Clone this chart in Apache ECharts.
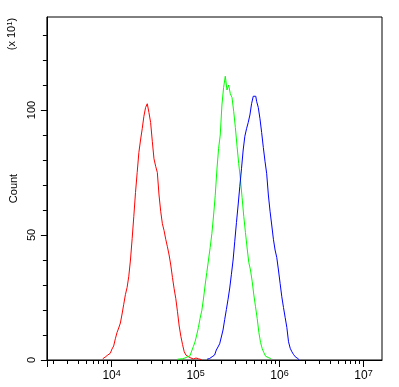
<!DOCTYPE html>
<html>
<head>
<meta charset="utf-8">
<script src="https://cdn.jsdelivr.net/npm/echarts@6/dist/echarts.min.js"></script>
<style>
  html, body { margin: 0; padding: 0; background: #fff; }
  #chart { width: 399px; height: 387px; }
</style>
</head>
<body>
<div id="chart"></div>
<script>
// x is log10(fluorescence), y is event count (x10)
var xMin = 3.23
var xMax = 7.22
var yMax = 137.2
var binWidth = 0.02

var redStart = 3.895
var redCounts = [
  0.5, 1.2, 1.6, 2, 2.7, 3.4, 4.4, 5.6, 8.5, 11,
  12.8, 14.8, 18.4, 22.3, 26.2, 29, 33.5, 40, 48.5, 57.5,
  67, 75, 83, 88, 92.5, 97.5, 101, 102.5, 99, 95,
  87.5, 80.5, 77.5, 75, 66, 59.5, 54.5, 51.8, 48.3, 45.3,
  42, 38, 33, 28.5, 24.5, 19.3, 13.6, 9.5, 6.2, 3.3,
  2, 1.3, 0.8, 1, 0.4, 0.8, 0.3, 0.5, 0.2, 0
]

var greenStart = 4.784
var greenCounts = [
  0.3, 0.4, 0.4, 0.5, 0.8, 1, 1.3, 1.7, 2.2, 3.6,
  5.4, 7.3, 10, 13, 16.7, 19.7, 24.4, 30, 35, 40,
  45, 50.5, 57.6, 65.7, 76, 84.5, 90, 102, 109, 113.5,
  108, 110, 106.5, 105, 99.5, 93, 85.5, 78.5, 72.5, 65,
  57.5, 51, 44.8, 39, 36, 31.5, 26, 21.3, 16.6, 11,
  7, 4.5, 2.9, 1.5, 1, 0.6, 0.3
]

var blueStart = 5.137
var blueCounts = [
  0.3, 0.6, 1, 1.3, 2, 2.8, 4, 5.2, 6.5, 9.2,
  12, 16.2, 20.2, 24.3, 28.8, 34.3, 40, 47.5, 55, 62,
  69.5, 76.5, 84, 89.5, 92.5, 95, 98, 102.5, 105.5, 105.5,
  103.5, 101, 96.5, 91, 85, 79.5, 74.5, 66, 59.5, 54,
  48.3, 44, 41, 36, 30.6, 25.3, 21, 17, 13, 7.3,
  4.7, 3.3, 2.2, 1.3, 0.6, 0
]

var decades = [4, 5, 6, 7]
var yMinorTicks = [0, 10, 20, 30, 40, 50, 60, 70, 80, 90, 100, 110, 120, 130]
var yLabels = [0, 50, 100]

function toPoints(start, counts) {
  return counts.map(function (c, i) {
    return [+(start + i * binWidth).toFixed(4), c]
  })
}

// log minor ticks at 2..9 x 10^n
var xMinorTicks = []
for (var d = 3; d <= 7; d++) {
  for (var k = 2; k <= 9; k++) {
    var v = d + Math.log10(k)
    if (v > xMin && v < xMax) xMinorTicks.push(v)
  }
}

var font = 'Liberation Sans, Arial, sans-serif'

var chart = echarts.init(document.getElementById('chart'))
chart.setOption({
  backgroundColor: '#fff',
  animation: false,
  grid: {
    left: 43,
    right: 17,
    top: 17,
    bottom: 27,
    show: true,
    borderColor: '#000',
    borderWidth: 1
  },
  xAxis: [{
    type: 'value',
    min: xMin,
    max: xMax,
    axisLine: { onZero: false, lineStyle: { color: '#000', width: 1 } },
    axisTick: { customValues: xMinorTicks, length: 4, lineStyle: { color: '#000' } },
    splitLine: { show: false },
    axisLabel: {
      customValues: decades,
      margin: 9,
      color: '#000',
      fontFamily: font,
      formatter: function (v) {
        return '{b|10}{s|' + v + '}'
      },
      rich: {
        b: { fontSize: 12, fontFamily: font, color: '#000' },
        s: { fontSize: 9, fontFamily: font, color: '#000', padding: [0, 0, 5, 0] }
      }
    }
  }, {
    type: 'value',
    position: 'bottom',
    min: xMin,
    max: xMax,
    axisLine: { show: false },
    axisTick: { customValues: [xMin].concat(decades), length: 7, lineStyle: { color: '#000' } },
    axisLabel: { show: false },
    splitLine: { show: false }
  }],
  yAxis: [{
    type: 'value',
    min: 0,
    max: yMax,
    name: 'Count',
    nameLocation: 'middle',
    nameRotate: 90,
    nameGap: 27,
    nameTextStyle: { color: '#000', fontSize: 11, fontFamily: font },
    axisLine: { show: true, lineStyle: { color: '#000', width: 1 } },
    axisTick: { customValues: yMinorTicks, length: 4, lineStyle: { color: '#000' } },
    splitLine: { show: false },
    axisLabel: {
      customValues: yLabels,
      rotate: 90,
      margin: 9,
      color: '#000',
      fontSize: 11,
      fontFamily: font
    }
  }, {
    type: 'value',
    position: 'left',
    min: 0,
    max: yMax,
    axisLine: { show: false },
    axisTick: { customValues: yLabels, length: 6, lineStyle: { color: '#000' } },
    axisLabel: { show: false },
    splitLine: { show: false }
  }],
  graphic: [{
    type: 'text',
    x: 12,
    y: 34,
    rotation: Math.PI / 2,
    style: {
      text: '(x 10{s|1})',
      fill: '#000',
      fontSize: 11,
      fontFamily: font,
      align: 'center',
      verticalAlign: 'middle',
      rich: {
        s: { fontSize: 8, fontFamily: font, fill: '#000', padding: [0, 0, 5, 0] }
      }
    }
  }],
  series: [{
    name: 'red',
    type: 'line',
    step: 'middle',
    showSymbol: false,
    lineStyle: { color: '#ff0000', width: 1 },
    data: toPoints(redStart, redCounts)
  }, {
    name: 'green',
    type: 'line',
    step: 'middle',
    showSymbol: false,
    lineStyle: { color: '#00ff00', width: 1 },
    data: toPoints(greenStart, greenCounts)
  }, {
    name: 'blue',
    type: 'line',
    step: 'middle',
    showSymbol: false,
    lineStyle: { color: '#0000ff', width: 1 },
    data: toPoints(blueStart, blueCounts)
  }]
})
</script>
</body>
</html>
